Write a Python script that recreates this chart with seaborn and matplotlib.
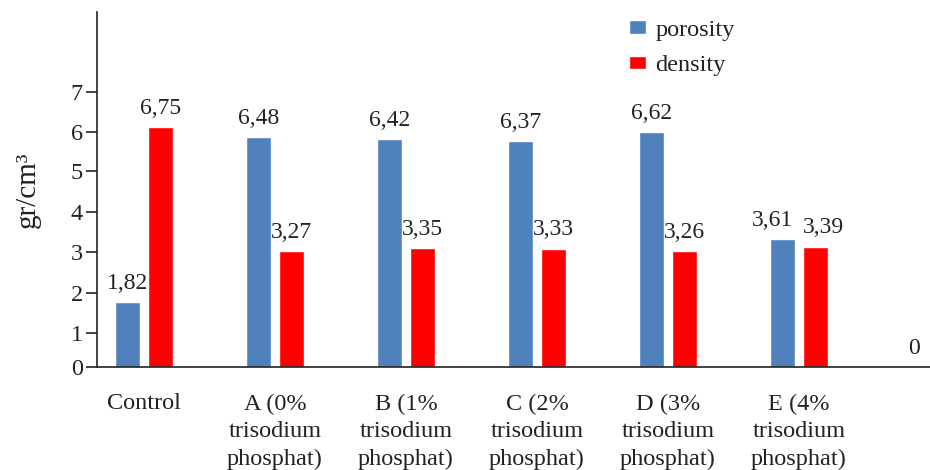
import numpy as np
import pandas as pd
import matplotlib
matplotlib.use("Agg")
import matplotlib.pyplot as plt
import seaborn as sns

# data
categories = ["Control", "A (0%\ntrisodium\nphosphat)", "B (1%\ntrisodium\nphosphat)",
              "C (2%\ntrisodium\nphosphat)", "D (3%\ntrisodium\nphosphat)",
              "E (4%\ntrisodium\nphosphat)", ""]
porosity = [1.82, 6.48, 6.42, 6.37, 6.62, 3.61, 0]
density = [6.75, 3.27, 3.35, 3.33, 3.26, 3.39, np.nan]
tick_labels = ["0", "1", "2", "3", "4", "5", "6", "7"]
tick_pos = [0, 0.96, 2.08, 3.24, 4.37, 5.52, 6.62, 7.75]  # as spaced in the source

df = pd.DataFrame({"group": categories * 2,
                   "kind": ["porosity"] * len(categories) + ["density"] * len(categories),
                   "value": porosity + density})

sns.set_style("white")
plt.rcParams["font.family"] = ["Liberation Serif", "DejaVu Serif"]
ink = "#222222"

fig = plt.figure(figsize=(9.3, 4.7), dpi=100)
ax = fig.add_axes([97 / 930, 1 - 367 / 470, 1 - 97 / 930, 355 / 470])

sns.barplot(data=df, x="group", y="value", hue="kind", order=categories,
            hue_order=["porosity", "density"],
            palette={"porosity": "#4F81BD", "density": "#FF0000"},
            saturation=1, width=0.5, gap=0.24, ax=ax)

# value labels; the close pair over E is pushed apart like in the source
nudge = [-7.5, 6]
for k, cont in enumerate(ax.containers):
    vals = cont.datavalues
    labs = ["0" if v == 0 else f"{v:.2f}".replace(".", ",") for v in vals]
    anns = ax.bar_label(cont, labels=labs, padding=6, fontsize=17, color=ink)
    anns[5].xyann = (nudge[k], 6)

ax.set_ylim(0, 10)
ax.set_xlim(-0.358, 5.98)
ax.set_yticks(tick_pos)
ax.set_yticklabels(tick_labels, fontsize=17.5, color=ink)
ax.tick_params(axis="y", direction="out", length=8, width=1.2, color=ink, pad=2, left=True)
ax.set_xticks(range(len(categories)))
ax.set_xticklabels(categories, linespacing=1.42)
ax.tick_params(axis="x", length=0, pad=19, labelsize=17.5, labelcolor=ink)
ax.set_xlabel("")
ax.set_ylabel("gr/cm³", fontsize=21, color=ink)
ax.yaxis.set_label_coords(-0.067, 0.5)

for s in ["top", "right"]:
    ax.spines[s].set_visible(False)
for s in ["left", "bottom"]:
    ax.spines[s].set_color(ink)
    ax.spines[s].set_linewidth(1.2)

ax.legend(loc="upper left", bbox_to_anchor=(607 / 930, 1.005), bbox_transform=fig.transFigure,
          frameon=False, fontsize=17.5, handlelength=0.7, handleheight=0.5,
          handletextpad=0.4, labelspacing=0.6, labelcolor=ink)

fig.savefig("out.png", dpi=100)
